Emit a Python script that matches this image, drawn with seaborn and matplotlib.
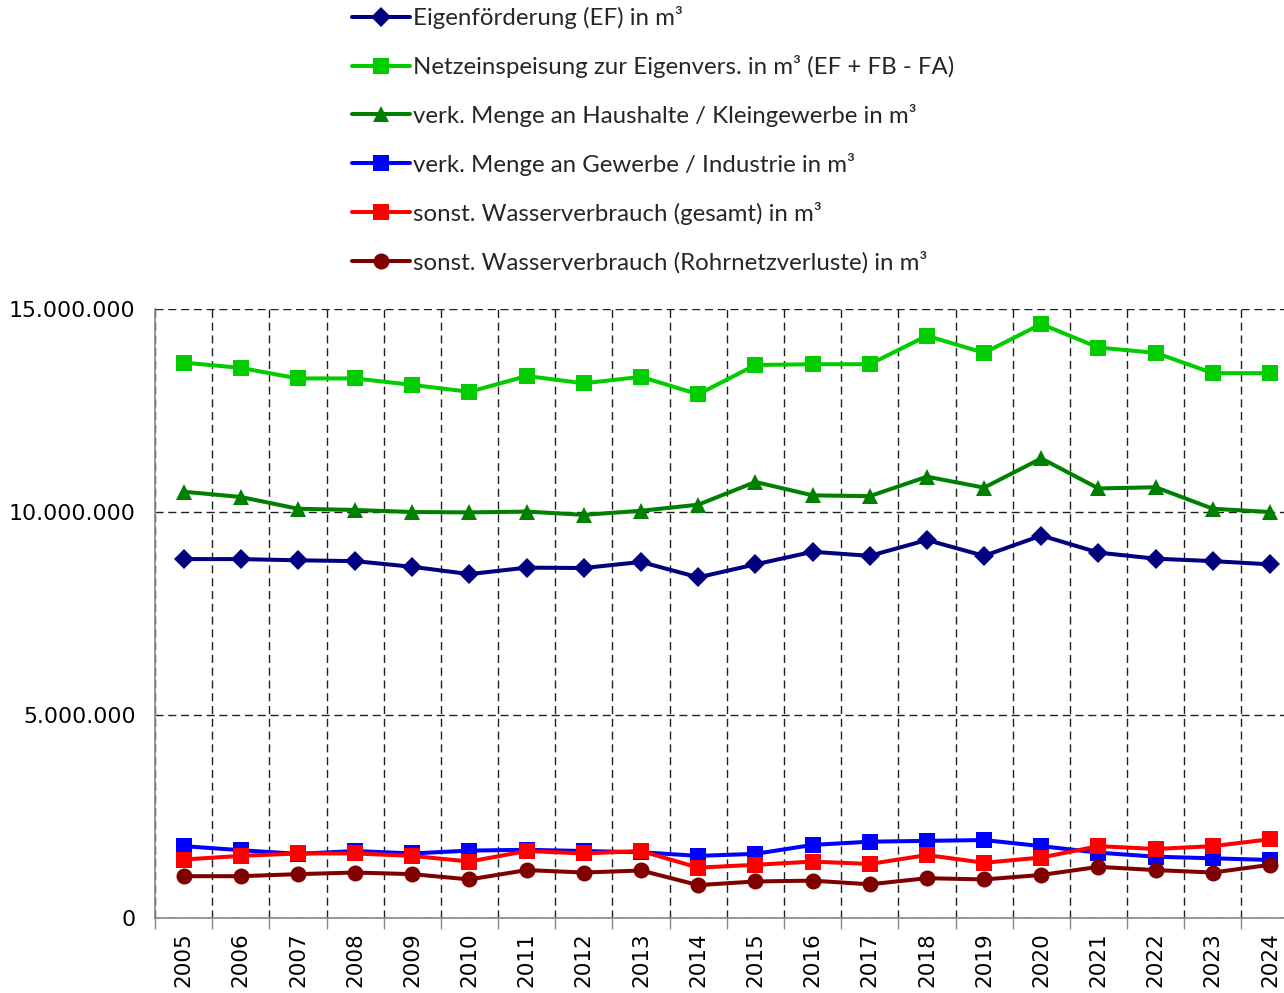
import matplotlib
matplotlib.use("Agg")
import matplotlib.pyplot as plt
import numpy as np
import pandas as pd
import seaborn as sns
from matplotlib.ticker import FuncFormatter, MultipleLocator

years = list(range(2005, 2025))

eigenfoerderung = [8.84, 8.84, 8.81, 8.79, 8.65, 8.47, 8.63, 8.62, 8.77, 8.39,
                   8.71, 9.02, 8.92, 9.31, 8.92, 9.42, 9.00, 8.85, 8.79, 8.71]
netzeinspeisung = [13.68, 13.55, 13.29, 13.29, 13.13, 12.96, 13.35, 13.17, 13.33, 12.90,
                   13.62, 13.64, 13.64, 14.34, 13.92, 14.63, 14.05, 13.92, 13.42, 13.42]
haushalte = [10.50, 10.37, 10.08, 10.05, 10.00, 9.99, 10.01, 9.93, 10.03, 10.18,
             10.74, 10.41, 10.39, 10.87, 10.60, 11.32, 10.58, 10.61, 10.08, 10.00]
gewerbe = [1.77, 1.67, 1.58, 1.65, 1.59, 1.66, 1.68, 1.65, 1.62, 1.53,
           1.58, 1.80, 1.88, 1.90, 1.92, 1.77, 1.61, 1.51, 1.47, 1.43]
sonst_gesamt = [1.44, 1.53, 1.59, 1.59, 1.53, 1.39, 1.65, 1.59, 1.65, 1.24,
                1.31, 1.39, 1.33, 1.55, 1.36, 1.49, 1.77, 1.70, 1.77, 1.94]
rohrnetz = [1.03, 1.03, 1.08, 1.12, 1.08, 0.95, 1.18, 1.12, 1.17, 0.81,
            0.90, 0.92, 0.83, 0.98, 0.95, 1.06, 1.26, 1.18, 1.12, 1.31]

labels = [
    "Eigenförderung (EF) in m³",
    "Netzeinspeisung zur Eigenvers. in m³ (EF + FB - FA)",
    "verk. Menge an Haushalte / Kleingewerbe in m³",
    "verk. Menge an Gewerbe / Industrie in m³",
    "sonst. Wasserverbrauch (gesamt) in m³",
    "sonst. Wasserverbrauch (Rohrnetzverluste) in m³",
]
series = [eigenfoerderung, netzeinspeisung, haushalte, gewerbe, sonst_gesamt, rohrnetz]
colors = ["#000080", "#00CC00", "#008000", "#0000FF", "#FF0000", "#800000"]
markers = ["D", "s", "^", "s", "s", "o"]
msizes = [10, 11.5, 12, 11.5, 11.5, 11.5]

frames = []
for lab, vals in zip(labels, series):
    frames.append(pd.DataFrame({"Jahr": years, "Wert": np.array(vals) * 1e6, "Reihe": lab}))
df = pd.concat(frames, ignore_index=True)

sns.set_style("white")
plt.rcParams["font.family"] = ["DejaVu Sans"]

fig = plt.figure(figsize=(12.84, 9.93), dpi=100)
ax = fig.add_axes([155 / 1284, 75 / 993, 1143.6 / 1284, 609 / 993])

for lab, col, mk, ms in zip(labels, colors, markers, msizes):
    sub = df[df["Reihe"] == lab]
    sns.lineplot(ax=ax, data=sub, x="Jahr", y="Wert", color=col, linewidth=2.9,
                 marker=mk, markersize=ms, markeredgewidth=0, label=lab)

ax.set_xlim(2004.5, 2024.5)
ax.set_ylim(0, 15e6)
ax.set_xticks(years)
ax.set_xticklabels([str(y) for y in years], rotation=90)
ax.xaxis.set_minor_locator(MultipleLocator(1, offset=0.5))
ax.yaxis.set_major_locator(MultipleLocator(5e6))
ax.yaxis.set_major_formatter(FuncFormatter(lambda v, p: f"{int(v):,}".replace(",", ".")))
ax.tick_params(axis="y", length=8, color="#868686", width=1, pad=6)
ax.tick_params(axis="x", which="major", length=0, pad=10)
ax.tick_params(axis="x", which="minor", length=8, color="#868686", width=1, bottom=True)
for t in ax.get_yticklabels():
    t.set_fontfamily("DejaVu Sans")
    t.set_fontsize(15.8)
    t.set_color("black")
for t in ax.get_xticklabels():
    t.set_fontfamily("DejaVu Sans")
    t.set_fontsize(15.5)
    t.set_color("black")

ax.grid(False)
ax.grid(axis="y", which="major", color="#202020", linestyle=(0, (5.8, 3.4)), linewidth=1)
ax.grid(axis="x", which="minor", color="#202020", linestyle=(0, (5.8, 3.4)), linewidth=1)
ax.set_axisbelow(True)
for s in ["top", "right"]:
    ax.spines[s].set_visible(False)
for s in ["left", "bottom"]:
    ax.spines[s].set_color("#868686")
    ax.spines[s].set_linewidth(1.2)
ax.set_xlabel("")
ax.set_ylabel("")

h, l = ax.get_legend_handles_labels()
ax.get_legend().remove()
fig.legend(h, l, loc="upper left", bbox_to_anchor=(352 / 1284, 1 - 6 / 993),
           frameon=False, prop={"family": "Lato", "size": 17.3},
           handlelength=2.4, handletextpad=0.15, labelspacing=1.08, borderpad=0,
           borderaxespad=0)

fig.savefig("out.png", dpi=100)
